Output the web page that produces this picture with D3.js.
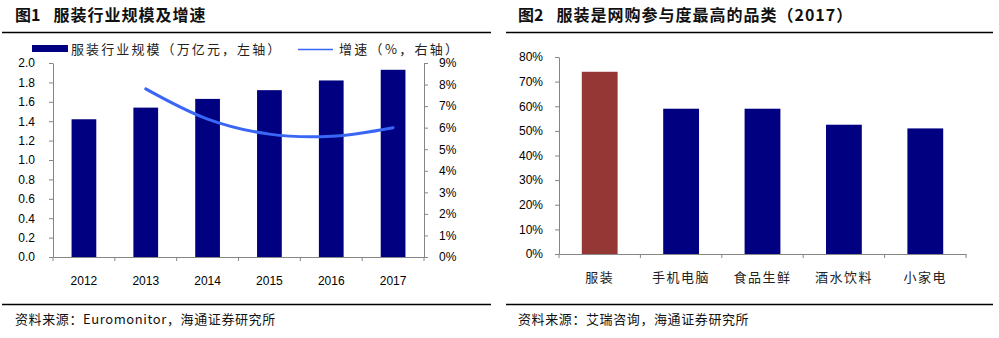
<!DOCTYPE html>
<html><head><meta charset="utf-8">
<script src="https://cdn.jsdelivr.net/npm/d3@7"></script>
<style>
body{margin:0;background:#fff;}
svg{display:block;}
</style></head>
<body>
<svg id="c" width="999" height="338"></svg>
<script>
// ---- Data ----
const years = ["2012","2013","2014","2015","2016","2017"];
const marketSize = [1.42, 1.54, 1.63, 1.72, 1.82, 1.93];        // 万亿元
const growthYears = ["2013","2014","2015","2016","2017"];
const growthRate = [0.078, 0.064, 0.057, 0.056, 0.060];           // %
const leftTicks = [0,0.2,0.4,0.6,0.8,1.0,1.2,1.4,1.6,1.8,2.0];
const rightTicks = [0,0.01,0.02,0.03,0.04,0.05,0.06,0.07,0.08,0.09];

const categories = ["服装","手机电脑","食品生鲜","酒水饮料","小家电"];
const participation = [0.74, 0.59, 0.59, 0.525, 0.51];
const pctTicks = [0,0.1,0.2,0.3,0.4,0.5,0.6,0.7,0.8];

const svg = d3.select("#c");
const CJK = "'Noto Sans CJK SC', sans-serif";
const NUM = "'Liberation Sans', Arial, 'Noto Sans CJK SC', sans-serif";
const axisColor = "#868686";
const navy = "#000080";
const red = "#953735";
const lineBlue = "#3a66f5";

// ---- Titles & rules ----
function header(x, label, title, x1, x2){
  const t = svg.append("text").attr("x", x).attr("y", 21)
    .attr("font-family", CJK).attr("font-size", 16).attr("font-weight", "bold").attr("fill", "#111");
  t.append("tspan").text(label);
  t.append("tspan").attr("dx", 13).attr("letter-spacing", 1).text(title);
  svg.append("line").attr("x1", x1).attr("x2", x2).attr("y1", 32.5).attr("y2", 32.5)
    .attr("stroke", "#000").attr("stroke-width", 1.3);
  svg.append("line").attr("x1", x1).attr("x2", x2).attr("y1", 304.5).attr("y2", 304.5)
    .attr("stroke", "#000").attr("stroke-width", 1.3);
}
header(15, "图1", "服装行业规模及增速", 2, 491);
header(518, "图2", "服装是网购参与度最高的品类（2017）", 506, 993);

function source(x, txt){
  svg.append("text").attr("x", x).attr("y", 324).attr("font-family", CJK)
    .attr("font-size", 13).attr("letter-spacing", 0.6).attr("fill", "#111").text(txt);
}
source(15, "资料来源：Euromonitor，海通证券研究所");
source(518, "资料来源：艾瑞咨询，海通证券研究所");

// ---- Chart 1 ----
const L = {x0: 53, x1: 424, y0: 257, y1: 63};
const x1s = d3.scaleBand().domain(years).range([L.x0, L.x1]).paddingInner(0.6).paddingOuter(0.3);
const yL = d3.scaleLinear().domain([0, 2]).range([L.y0, L.y1]);
const yR = d3.scaleLinear().domain([0, 0.09]).range([L.y0, L.y1]);

const g1 = svg.append("g");
g1.selectAll("rect.bar").data(years).join("rect")
  .attr("x", d => x1s(d)).attr("width", x1s.bandwidth())
  .attr("y", (d,i) => yL(marketSize[i])).attr("height", (d,i) => yL(0) - yL(marketSize[i]))
  .attr("fill", navy);

function styleAxis(g){
  g.selectAll("path.domain").attr("stroke", axisColor);
  g.selectAll(".tick line").attr("stroke", axisColor);
  g.selectAll(".tick text").attr("font-family", NUM).attr("font-size", 12).attr("fill", "#000");
}
const axL = g1.append("g").attr("transform", `translate(${L.x0},0)`)
  .call(d3.axisLeft(yL).tickValues(leftTicks).tickFormat(d3.format(".1f")).tickSizeInner(4).tickSizeOuter(0).tickPadding(14));
styleAxis(axL);
const axR = g1.append("g").attr("transform", `translate(${L.x1},0)`)
  .call(d3.axisRight(yR).tickValues(rightTicks).tickFormat(d3.format(".0%")).tickSizeInner(4).tickSizeOuter(0).tickPadding(11));
styleAxis(axR);
const axB = g1.append("g").attr("transform", `translate(0,${L.y0})`)
  .call(d3.axisBottom(x1s).tickSize(0).tickPadding(19));
styleAxis(axB);
// category boundary ticks
g1.selectAll("line.bt").data(d3.range(years.length + 1)).join("line")
  .attr("x1", i => L.x0 + i * (L.x1 - L.x0) / years.length)
  .attr("x2", i => L.x0 + i * (L.x1 - L.x0) / years.length)
  .attr("y1", L.y0).attr("y2", L.y0 + 4).attr("stroke", axisColor);

const lineGen = d3.line().curve(d3.curveCatmullRom.alpha(0.5))
  .x((d,i) => x1s(growthYears[i]) + x1s.bandwidth()/2)
  .y(d => yR(d));
g1.append("path").datum(growthRate).attr("d", lineGen)
  .attr("fill", "none").attr("stroke", lineBlue).attr("stroke-width", 3).attr("stroke-linecap", "round");

// legend
g1.append("rect").attr("x", 32).attr("y", 45).attr("width", 36).attr("height", 7).attr("fill", navy);
g1.append("text").attr("x", 71).attr("y", 54).attr("font-family", CJK).attr("font-size", 13)
  .attr("letter-spacing", 2.1).attr("fill", "#222").text("服装行业规模（万亿元，左轴）");
g1.append("line").attr("x1", 298).attr("x2", 333).attr("y1", 49.5).attr("y2", 49.5)
  .attr("stroke", lineBlue).attr("stroke-width", 1.3);
g1.append("text").attr("x", 339).attr("y", 54).attr("font-family", CJK).attr("font-size", 13)
  .attr("letter-spacing", 2.3).attr("fill", "#222").text("增速（%，右轴）");

// ---- Chart 2 ----
const R = {x0: 559, x1: 966, y0: 254, y1: 57};
const x2s = d3.scaleBand().domain(categories).range([R.x0, R.x1]).paddingInner(0.56).paddingOuter(0.28);
const y2 = d3.scaleLinear().domain([0, 0.8]).range([R.y0, R.y1]);
const g2 = svg.append("g");
g2.selectAll("rect").data(categories).join("rect")
  .attr("x", d => x2s(d)).attr("width", x2s.bandwidth())
  .attr("y", (d,i) => y2(participation[i])).attr("height", (d,i) => y2(0) - y2(participation[i]))
  .attr("fill", (d,i) => i === 0 ? red : navy);
const ax2L = g2.append("g").attr("transform", `translate(${R.x0},0)`)
  .call(d3.axisLeft(y2).tickValues(pctTicks).tickFormat(d3.format(".0%")).tickSizeInner(4).tickSizeOuter(0).tickPadding(12));
styleAxis(ax2L);
const ax2B = g2.append("g").attr("transform", `translate(0,${R.y0})`)
  .call(d3.axisBottom(x2s).tickSize(0).tickPadding(19));
styleAxis(ax2B);
ax2B.selectAll(".tick text").attr("font-family", CJK).attr("font-size", 13).attr("letter-spacing", 1.5).attr("fill", "#222");
g2.selectAll("line.bt").data(d3.range(categories.length + 1)).join("line")
  .attr("x1", i => R.x0 + i * (R.x1 - R.x0) / categories.length)
  .attr("x2", i => R.x0 + i * (R.x1 - R.x0) / categories.length)
  .attr("y1", R.y0).attr("y2", R.y0 + 4).attr("stroke", axisColor);
</script>
</body></html>
